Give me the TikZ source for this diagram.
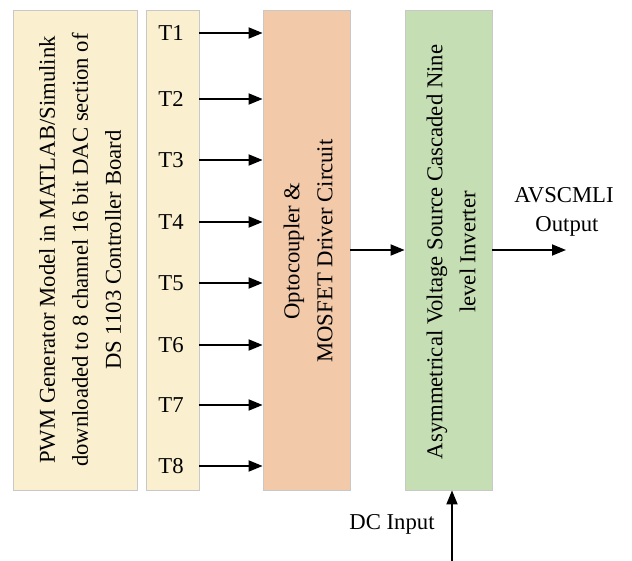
\documentclass[tikz,border=0pt]{standalone}
\usepackage{fontspec}
\setmainfont{Liberation Serif}
\usetikzlibrary{arrows.meta}
\definecolor{pwmfill}{HTML}{FAF0D0}
\definecolor{optofill}{HTML}{F2C9A9}
\definecolor{avsfill}{HTML}{C5DEB3}
\definecolor{edge}{HTML}{C8C8C8}
\begin{document}
\begin{tikzpicture}[x=1pt,y=-1pt,
  font=\fontsize{22.7}{33}\selectfont,
  blk/.style={draw=edge, line width=0.8pt, inner sep=0pt},
  lbl/.style={inner sep=0pt, align=center},
  arr/.style={-{Triangle[length=14pt,width=11pt]}, line width=1.8pt}]
\useasboundingbox (0,0) rectangle (632,561);
% blocks
\node[blk, fill=pwmfill, minimum width=124pt, minimum height=480pt] (pwm) at (75,250) {};
\node[blk, fill=pwmfill, minimum width=53pt, minimum height=480pt] (tbox) at (172.5,250) {};
\node[blk, fill=optofill, minimum width=87pt, minimum height=480pt] (opto) at (306.5,250) {};
\node[blk, fill=avsfill, minimum width=87pt, minimum height=480pt] (avs) at (448.5,250) {};
% block texts
\node[lbl, rotate=90] (pwmtext) at (80,250) {PWM Generator Model in MATLAB/Simulink\\downloaded to 8 channel 16 bit DAC section of\\DS 1103 Controller Board};
\node[lbl, rotate=90] (optotext) at (308,251) {Optocoupler \&\\MOSFET Driver Circuit};
\node[lbl, rotate=90] (avstext) at (451,252) {Asymmetrical Voltage Source Cascaded Nine\\level Inverter};
% T labels
\foreach \i/\y in {1/33,2/99,3/160,4/222,5/283,6/345,7/405,8/466}{
  \node[lbl] (t\i) at (171,\y) {T\i};
  \draw[arr] (t\i -| tbox.east) -- (t\i -| opto.west);
}
% connections
\draw[arr] (opto.east) -- (avs.west);
\coordinate (out) at (566,250);
\draw[arr] (avs.east) -- (out);
\node[lbl] (avscmli) at (564,195) {AVSCMLI};
\node[lbl] (outtxt) at (567,226) {Output};
\coordinate (dc) at (452,561);
\draw[arr] (dc) -- (dc |- avs.south);
\node[lbl] (dctxt) at (392,524) {DC Input};
\end{tikzpicture}
\end{document}
